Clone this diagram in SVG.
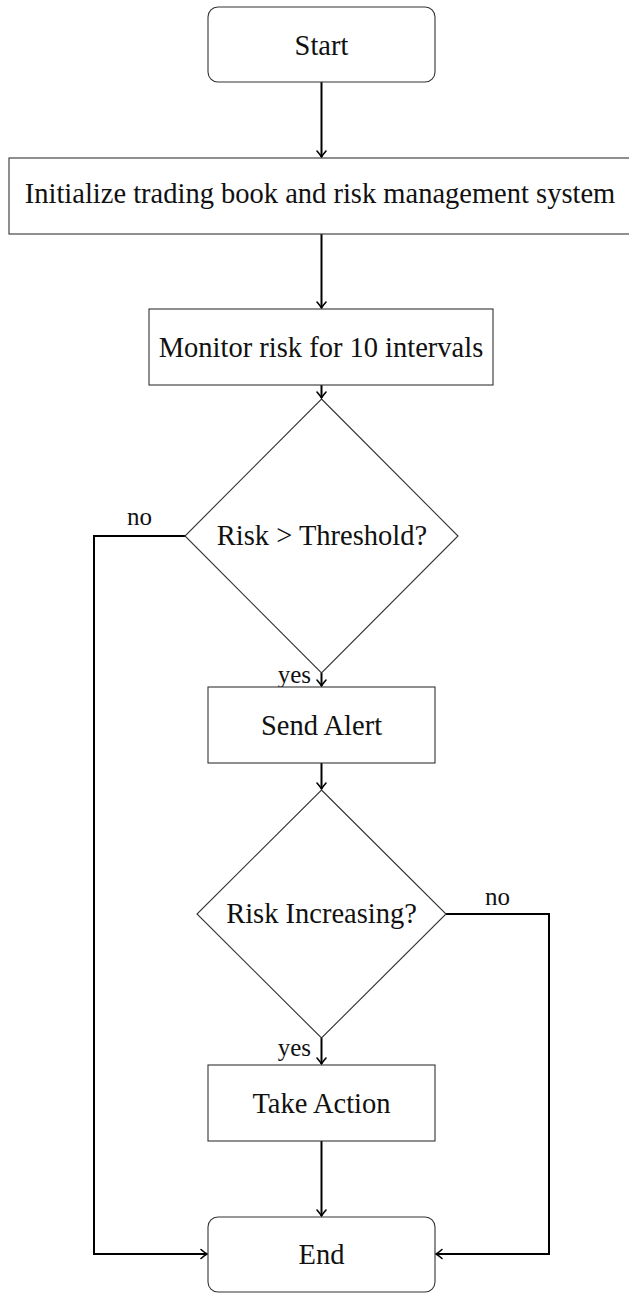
<svg xmlns="http://www.w3.org/2000/svg" width="629" height="1294" viewBox="0 0 629 1294">
<style>
.node{fill:#fff;stroke:#333;stroke-width:1.1}
.t{font-family:'Liberation Serif','Times New Roman','DejaVu Serif',serif;font-size:28.5px;fill:#111;text-anchor:middle}
.lbl{font-family:'Liberation Serif','Times New Roman','DejaVu Serif',serif;font-size:25px;fill:#111}
.edge{fill:none;stroke:#000;stroke-width:2}
</style>
<defs>
<marker id="arr" viewBox="-10 -6 12 12" refX="0" refY="0" markerWidth="12" markerHeight="12" markerUnits="userSpaceOnUse" orient="auto">
<path d="M-6,-4.5 Q-2,-1 0,0 Q-2,1 -6,4.5" fill="none" stroke="#000" stroke-width="1.6" stroke-linecap="round"/>
</marker>
</defs>
<rect width="629" height="1294" fill="#fff"/>
<g id="edges">
<path class="edge" d="M321.5,82 V157" marker-end="url(#arr)"/>
<path class="edge" d="M321.5,234 V308" marker-end="url(#arr)"/>
<path class="edge" d="M321.5,385 V398" marker-end="url(#arr)"/>
<path class="edge" d="M321.5,673 V686" marker-end="url(#arr)"/>
<path class="edge" d="M185,536 H94 V1254 H207" marker-end="url(#arr)"/>
<path class="edge" d="M321.5,763 V789" marker-end="url(#arr)"/>
<path class="edge" d="M321.5,1038 V1064" marker-end="url(#arr)"/>
<path class="edge" d="M446,914 H549 V1254 H436" marker-end="url(#arr)"/>
<path class="edge" d="M321.5,1141 V1216" marker-end="url(#arr)"/>
<text class="lbl" x="139.5" y="525" text-anchor="middle" font-family="Liberation Serif, serif">no</text>
<text class="lbl" x="311" y="683" text-anchor="end" font-family="Liberation Serif, serif">yes</text>
<text class="lbl" x="497.5" y="905" text-anchor="middle" font-family="Liberation Serif, serif">no</text>
<text class="lbl" x="311" y="1056" text-anchor="end" font-family="Liberation Serif, serif">yes</text>
</g>
<g id="start">
<rect class="node" x="208" y="7" width="227" height="75" rx="10"/>
<text class="t" x="321.5" y="54.5">Start</text>
</g>
<g id="init">
<rect class="node" x="9" y="158" width="625" height="76"/>
<text class="t" x="320" y="203">Initialize trading book and risk management system</text>
</g>
<g id="monitor">
<rect class="node" x="149" y="309" width="344" height="76"/>
<text class="t" x="321" y="357">Monitor risk for 10 intervals</text>
</g>
<g id="decision1">
<polygon class="node" points="321.5,399 458,536 321.5,673 185,536"/>
<text class="t" x="322" y="545">Risk &gt; Threshold?</text>
</g>
<g id="alert">
<rect class="node" x="208" y="687" width="227" height="76"/>
<text class="t" x="321.5" y="735">Send Alert</text>
</g>
<g id="decision2">
<polygon class="node" points="321.5,790 446,914 321.5,1038 197,914"/>
<text class="t" x="321.5" y="923">Risk Increasing?</text>
</g>
<g id="action">
<rect class="node" x="208" y="1065" width="227" height="76"/>
<text class="t" x="321.5" y="1113">Take Action</text>
</g>
<g id="end">
<rect class="node" x="208" y="1217" width="227" height="75" rx="10"/>
<text class="t" x="321.5" y="1264">End</text>
</g>
</svg>
